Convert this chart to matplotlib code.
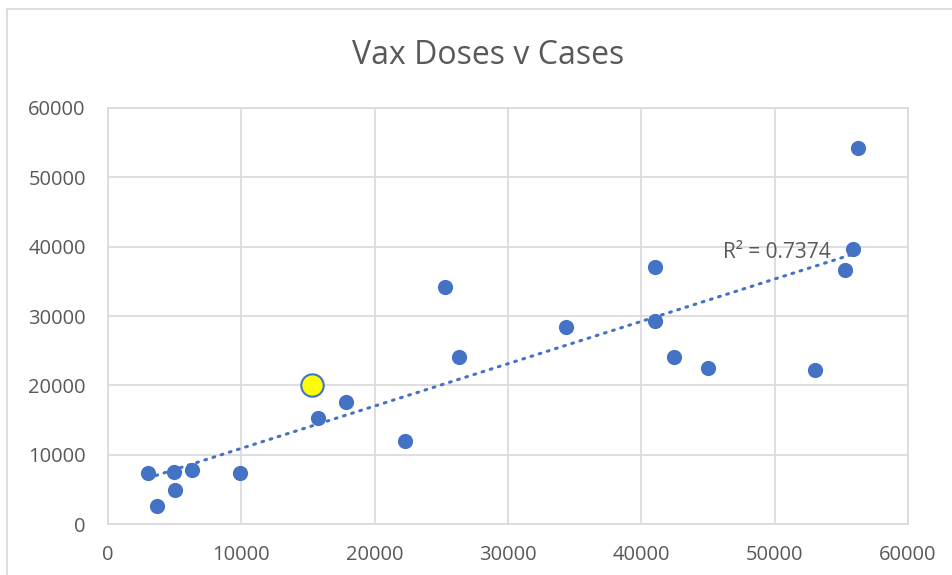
import numpy as np
import matplotlib
matplotlib.use('Agg')
import matplotlib.pyplot as plt
from matplotlib.patches import Rectangle

# vaksin vs kasus
doses = [2980, 3650, 4950, 5050, 6280, 9880, 15780, 17830, 22280, 25280,
         26300, 34350, 41030, 41030, 42430, 45000, 53000, 55300, 55900, 56230]
cases = [7310, 2600, 7450, 4950, 7790, 7400, 15330, 17550, 11930, 34230,
         24130, 28460, 37020, 29330, 24130, 22550, 22210, 36640, 39710, 54190]

# titik yang disorot
highlight_doses = [15300]
highlight_cases = [20000]

r2_label = "R² = 0.7374"
ticks = [0, 10000, 20000, 30000, 40000, 50000, 60000]

blue = '#4472C4'
grid = '#D9D9D9'
text_gray = '#595959'

plt.rcParams['font.family'] = ['Open Sans', 'DejaVu Sans']

fig = plt.figure(figsize=(9.53, 5.75), dpi=100)
ax = fig.add_axes([108 / 953, 51 / 575, 800 / 953, 416 / 575])

# border chart
fig.patches.append(Rectangle((7 / 953, -0.1), 1.1, 1.1 - 9 / 575,
                             transform=fig.transFigure, fill=False,
                             edgecolor=grid, linewidth=1.2))

ax.scatter(doses, cases, s=120, color=blue, zorder=3, linewidths=0)
ax.scatter(highlight_doses, highlight_cases, s=260, color='#FFFF00',
           edgecolors=blue, linewidths=1.5, zorder=4)

# trendline linear (semua titik, termasuk yang disorot)
all_x = np.array(doses + highlight_doses, dtype=float)
all_y = np.array(cases + highlight_cases, dtype=float)
m, b = np.polyfit(all_x, all_y, 1)
xs = np.array([all_x.min(), all_x.max()])
ax.plot(xs, m * xs + b, color=blue, linewidth=2.2,
        linestyle=(0, (0.6, 2.2)), dash_capstyle='round', zorder=2)

ax.text(46100, 39100, r2_label, fontsize=15, color=text_gray, va='center', ha='left')

ax.set_xlim(0, 60000)
ax.set_ylim(0, 60000)
ax.set_xticks(ticks)
ax.set_yticks(ticks)
ax.tick_params(length=0, labelsize=14.5, labelcolor=text_gray)
ax.tick_params(axis='x', pad=15)
ax.tick_params(axis='y', pad=16)
ax.grid(True, color=grid, linewidth=1.2)
ax.set_axisbelow(True)
for s in ax.spines.values():
    s.set_color(grid)
    s.set_linewidth(1.2)

fig.text(488 / 953, 1 - 55 / 575, 'Vax Doses v Cases', fontsize=23,
         color=text_gray, ha='center', va='center')

fig.savefig('out.png', dpi=100)
